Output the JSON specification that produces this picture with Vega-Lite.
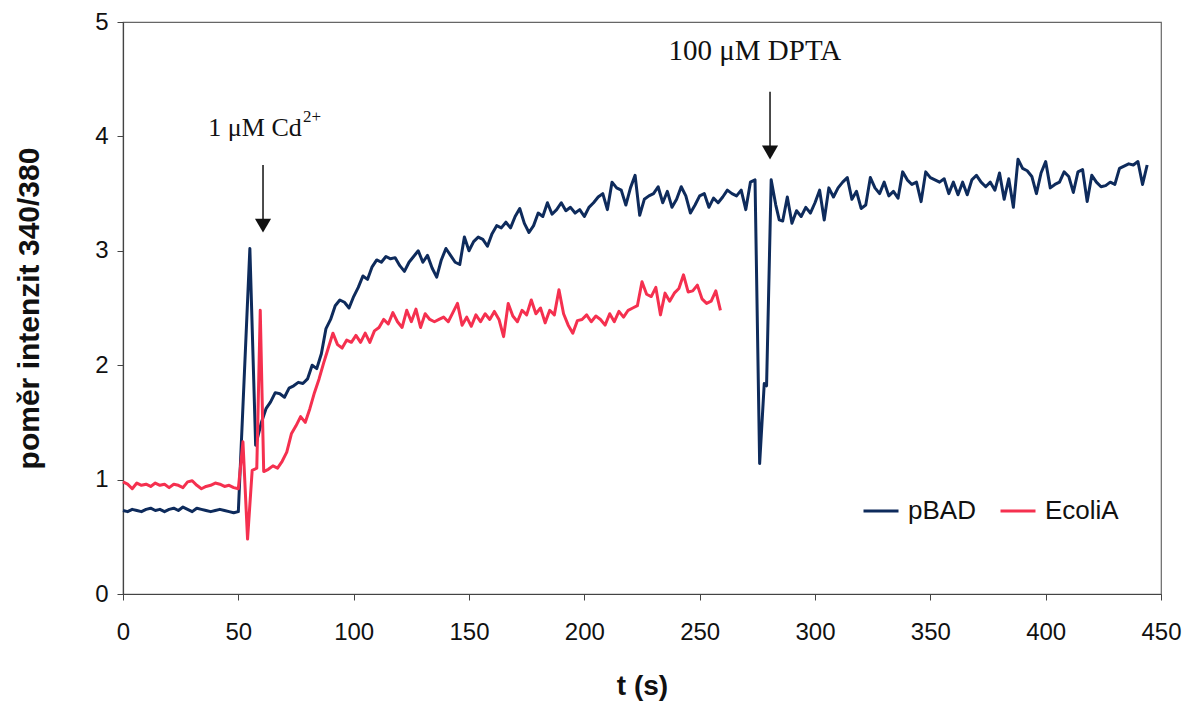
{
  "$schema": "https://vega.github.io/schema/vega-lite/v6.json",
  "width": 1038,
  "height": 572,
  "autosize": {"type": "none"},
  "padding": {"left": 123, "top": 22, "right": 28, "bottom": 113},
  "background": "white",
  "config": {
    "view": {"stroke": "#666", "strokeWidth": 1.2},
    "font": "Liberation Sans",
    "axis": {"grid": false, "domainColor": "#444", "tickColor": "#444", "labelColor": "#111", "titleColor": "#111", "labelFont": "Liberation Sans", "titleFont": "Liberation Sans", "labelFontSize": 24, "labelFontWeight": "normal", "titleFontWeight": "bold", "tickSize": 6, "domainWidth": 1.2}
  },
  "datasets": {
    "series": [
      {"s":"pBAD","t":0,"v":0.73},{"s":"pBAD","t":2,"v":0.72},{"s":"pBAD","t":4,"v":0.74},{"s":"pBAD","t":6,"v":0.73},{"s":"pBAD","t":8,"v":0.72},{"s":"pBAD","t":10,"v":0.74},{"s":"pBAD","t":12,"v":0.75},{"s":"pBAD","t":14,"v":0.73},{"s":"pBAD","t":16,"v":0.74},{"s":"pBAD","t":18,"v":0.72},{"s":"pBAD","t":20,"v":0.74},{"s":"pBAD","t":22,"v":0.75},{"s":"pBAD","t":24,"v":0.73},{"s":"pBAD","t":26,"v":0.76},{"s":"pBAD","t":28,"v":0.74},{"s":"pBAD","t":30,"v":0.72},{"s":"pBAD","t":32,"v":0.75},{"s":"pBAD","t":34,"v":0.74},{"s":"pBAD","t":36,"v":0.73},{"s":"pBAD","t":38,"v":0.72},{"s":"pBAD","t":40,"v":0.73},{"s":"pBAD","t":42,"v":0.74},{"s":"pBAD","t":44,"v":0.73},{"s":"pBAD","t":46,"v":0.72},{"s":"pBAD","t":48,"v":0.71},{"s":"pBAD","t":50,"v":0.72},{"s":"pBAD","t":55,"v":3.02},{"s":"pBAD","t":57.5,"v":1.3},{"s":"pBAD","t":60,"v":1.5},{"s":"pBAD","t":62,"v":1.62},{"s":"pBAD","t":64,"v":1.68},{"s":"pBAD","t":66,"v":1.76},{"s":"pBAD","t":68,"v":1.75},{"s":"pBAD","t":70,"v":1.72},{"s":"pBAD","t":72,"v":1.8},{"s":"pBAD","t":74,"v":1.82},{"s":"pBAD","t":76,"v":1.85},{"s":"pBAD","t":78,"v":1.84},{"s":"pBAD","t":80,"v":1.88},{"s":"pBAD","t":82,"v":2.0},{"s":"pBAD","t":84,"v":1.97},{"s":"pBAD","t":86,"v":2.1},{"s":"pBAD","t":88,"v":2.32},{"s":"pBAD","t":90,"v":2.4},{"s":"pBAD","t":92,"v":2.52},{"s":"pBAD","t":94,"v":2.57},{"s":"pBAD","t":96,"v":2.55},{"s":"pBAD","t":98,"v":2.5},{"s":"pBAD","t":100,"v":2.6},{"s":"pBAD","t":102,"v":2.68},{"s":"pBAD","t":104,"v":2.78},{"s":"pBAD","t":106,"v":2.75},{"s":"pBAD","t":108,"v":2.86},{"s":"pBAD","t":110,"v":2.92},{"s":"pBAD","t":112,"v":2.9},{"s":"pBAD","t":114,"v":2.95},{"s":"pBAD","t":116,"v":2.93},{"s":"pBAD","t":118,"v":2.94},{"s":"pBAD","t":120,"v":2.87},{"s":"pBAD","t":122,"v":2.82},{"s":"pBAD","t":124,"v":2.9},{"s":"pBAD","t":126,"v":2.95},{"s":"pBAD","t":128,"v":3.0},{"s":"pBAD","t":130,"v":2.9},{"s":"pBAD","t":132,"v":2.96},{"s":"pBAD","t":134,"v":2.85},{"s":"pBAD","t":136,"v":2.77},{"s":"pBAD","t":138,"v":2.92},{"s":"pBAD","t":140,"v":3.02},{"s":"pBAD","t":142,"v":2.96},{"s":"pBAD","t":144,"v":2.9},{"s":"pBAD","t":146,"v":2.88},{"s":"pBAD","t":148,"v":3.12},{"s":"pBAD","t":150,"v":3.0},{"s":"pBAD","t":152,"v":3.08},{"s":"pBAD","t":154,"v":3.12},{"s":"pBAD","t":156,"v":3.1},{"s":"pBAD","t":158,"v":3.04},{"s":"pBAD","t":160,"v":3.15},{"s":"pBAD","t":162,"v":3.22},{"s":"pBAD","t":164,"v":3.2},{"s":"pBAD","t":166,"v":3.25},{"s":"pBAD","t":168,"v":3.2},{"s":"pBAD","t":170,"v":3.3},{"s":"pBAD","t":172,"v":3.37},{"s":"pBAD","t":174,"v":3.24},{"s":"pBAD","t":176,"v":3.16},{"s":"pBAD","t":178,"v":3.22},{"s":"pBAD","t":180,"v":3.33},{"s":"pBAD","t":182,"v":3.3},{"s":"pBAD","t":184,"v":3.42},{"s":"pBAD","t":186,"v":3.32},{"s":"pBAD","t":188,"v":3.36},{"s":"pBAD","t":190,"v":3.42},{"s":"pBAD","t":192,"v":3.35},{"s":"pBAD","t":194,"v":3.38},{"s":"pBAD","t":196,"v":3.33},{"s":"pBAD","t":198,"v":3.36},{"s":"pBAD","t":200,"v":3.3},{"s":"pBAD","t":202,"v":3.38},{"s":"pBAD","t":204,"v":3.42},{"s":"pBAD","t":206,"v":3.47},{"s":"pBAD","t":208,"v":3.5},{"s":"pBAD","t":210,"v":3.36},{"s":"pBAD","t":212,"v":3.6},{"s":"pBAD","t":214,"v":3.55},{"s":"pBAD","t":216,"v":3.53},{"s":"pBAD","t":218,"v":3.4},{"s":"pBAD","t":220,"v":3.55},{"s":"pBAD","t":222,"v":3.66},{"s":"pBAD","t":224,"v":3.31},{"s":"pBAD","t":226,"v":3.45},{"s":"pBAD","t":228,"v":3.48},{"s":"pBAD","t":230,"v":3.5},{"s":"pBAD","t":232,"v":3.56},{"s":"pBAD","t":234,"v":3.42},{"s":"pBAD","t":236,"v":3.52},{"s":"pBAD","t":238,"v":3.38},{"s":"pBAD","t":240,"v":3.45},{"s":"pBAD","t":242,"v":3.56},{"s":"pBAD","t":244,"v":3.48},{"s":"pBAD","t":246,"v":3.33},{"s":"pBAD","t":248,"v":3.4},{"s":"pBAD","t":250,"v":3.48},{"s":"pBAD","t":252,"v":3.5},{"s":"pBAD","t":254,"v":3.38},{"s":"pBAD","t":256,"v":3.46},{"s":"pBAD","t":258,"v":3.42},{"s":"pBAD","t":260,"v":3.47},{"s":"pBAD","t":262,"v":3.53},{"s":"pBAD","t":264,"v":3.5},{"s":"pBAD","t":266,"v":3.48},{"s":"pBAD","t":268,"v":3.53},{"s":"pBAD","t":270,"v":3.36},{"s":"pBAD","t":272,"v":3.6},{"s":"pBAD","t":274,"v":3.62},{"s":"pBAD","t":276,"v":1.14},{"s":"pBAD","t":278,"v":1.84},{"s":"pBAD","t":279,"v":1.82},{"s":"pBAD","t":281,"v":3.62},{"s":"pBAD","t":283,"v":3.4},{"s":"pBAD","t":284.5,"v":3.27},{"s":"pBAD","t":286,"v":3.26},{"s":"pBAD","t":288,"v":3.47},{"s":"pBAD","t":290,"v":3.24},{"s":"pBAD","t":292,"v":3.35},{"s":"pBAD","t":294,"v":3.3},{"s":"pBAD","t":296,"v":3.38},{"s":"pBAD","t":298,"v":3.33},{"s":"pBAD","t":300,"v":3.42},{"s":"pBAD","t":302,"v":3.53},{"s":"pBAD","t":304,"v":3.27},{"s":"pBAD","t":306,"v":3.55},{"s":"pBAD","t":308,"v":3.47},{"s":"pBAD","t":310,"v":3.55},{"s":"pBAD","t":312,"v":3.6},{"s":"pBAD","t":314,"v":3.64},{"s":"pBAD","t":316,"v":3.45},{"s":"pBAD","t":318,"v":3.52},{"s":"pBAD","t":320,"v":3.37},{"s":"pBAD","t":322,"v":3.4},{"s":"pBAD","t":324,"v":3.64},{"s":"pBAD","t":326,"v":3.55},{"s":"pBAD","t":328,"v":3.5},{"s":"pBAD","t":330,"v":3.6},{"s":"pBAD","t":332,"v":3.48},{"s":"pBAD","t":334,"v":3.52},{"s":"pBAD","t":336,"v":3.46},{"s":"pBAD","t":338,"v":3.69},{"s":"pBAD","t":340,"v":3.62},{"s":"pBAD","t":342,"v":3.58},{"s":"pBAD","t":344,"v":3.6},{"s":"pBAD","t":346,"v":3.43},{"s":"pBAD","t":348,"v":3.69},{"s":"pBAD","t":350,"v":3.64},{"s":"pBAD","t":352,"v":3.62},{"s":"pBAD","t":354,"v":3.6},{"s":"pBAD","t":356,"v":3.63},{"s":"pBAD","t":358,"v":3.5},{"s":"pBAD","t":360,"v":3.6},{"s":"pBAD","t":362,"v":3.49},{"s":"pBAD","t":364,"v":3.6},{"s":"pBAD","t":366,"v":3.49},{"s":"pBAD","t":368,"v":3.62},{"s":"pBAD","t":370,"v":3.66},{"s":"pBAD","t":372,"v":3.6},{"s":"pBAD","t":374,"v":3.56},{"s":"pBAD","t":376,"v":3.6},{"s":"pBAD","t":378,"v":3.53},{"s":"pBAD","t":380,"v":3.68},{"s":"pBAD","t":382,"v":3.45},{"s":"pBAD","t":384,"v":3.63},{"s":"pBAD","t":386,"v":3.38},{"s":"pBAD","t":388,"v":3.8},{"s":"pBAD","t":390,"v":3.72},{"s":"pBAD","t":392,"v":3.7},{"s":"pBAD","t":394,"v":3.65},{"s":"pBAD","t":396,"v":3.5},{"s":"pBAD","t":398,"v":3.68},{"s":"pBAD","t":400,"v":3.78},{"s":"pBAD","t":402,"v":3.55},{"s":"pBAD","t":404,"v":3.58},{"s":"pBAD","t":406,"v":3.6},{"s":"pBAD","t":408,"v":3.69},{"s":"pBAD","t":410,"v":3.65},{"s":"pBAD","t":412,"v":3.51},{"s":"pBAD","t":414,"v":3.69},{"s":"pBAD","t":416,"v":3.71},{"s":"pBAD","t":418,"v":3.43},{"s":"pBAD","t":420,"v":3.66},{"s":"pBAD","t":422,"v":3.6},{"s":"pBAD","t":424,"v":3.56},{"s":"pBAD","t":426,"v":3.57},{"s":"pBAD","t":428,"v":3.6},{"s":"pBAD","t":430,"v":3.58},{"s":"pBAD","t":432,"v":3.72},{"s":"pBAD","t":434,"v":3.74},{"s":"pBAD","t":436,"v":3.76},{"s":"pBAD","t":438,"v":3.75},{"s":"pBAD","t":440,"v":3.78},{"s":"pBAD","t":442,"v":3.58},{"s":"pBAD","t":444,"v":3.75},
      {"s":"EcoliA","t":0,"v":0.98},{"s":"EcoliA","t":2,"v":0.96},{"s":"EcoliA","t":4,"v":0.92},{"s":"EcoliA","t":6,"v":0.97},{"s":"EcoliA","t":8,"v":0.95},{"s":"EcoliA","t":10,"v":0.96},{"s":"EcoliA","t":12,"v":0.94},{"s":"EcoliA","t":14,"v":0.97},{"s":"EcoliA","t":16,"v":0.95},{"s":"EcoliA","t":18,"v":0.96},{"s":"EcoliA","t":20,"v":0.93},{"s":"EcoliA","t":22,"v":0.96},{"s":"EcoliA","t":24,"v":0.95},{"s":"EcoliA","t":26,"v":0.93},{"s":"EcoliA","t":28,"v":0.98},{"s":"EcoliA","t":30,"v":0.99},{"s":"EcoliA","t":32,"v":0.95},{"s":"EcoliA","t":34,"v":0.92},{"s":"EcoliA","t":36,"v":0.94},{"s":"EcoliA","t":38,"v":0.95},{"s":"EcoliA","t":40,"v":0.97},{"s":"EcoliA","t":42,"v":0.96},{"s":"EcoliA","t":44,"v":0.94},{"s":"EcoliA","t":46,"v":0.95},{"s":"EcoliA","t":48,"v":0.93},{"s":"EcoliA","t":50,"v":0.92},{"s":"EcoliA","t":52,"v":1.33},{"s":"EcoliA","t":54,"v":0.48},{"s":"EcoliA","t":56,"v":1.08},{"s":"EcoliA","t":58,"v":1.1},{"s":"EcoliA","t":59.5,"v":2.48},{"s":"EcoliA","t":61,"v":1.07},{"s":"EcoliA","t":63,"v":1.09},{"s":"EcoliA","t":65,"v":1.12},{"s":"EcoliA","t":67,"v":1.1},{"s":"EcoliA","t":69,"v":1.16},{"s":"EcoliA","t":71,"v":1.24},{"s":"EcoliA","t":73,"v":1.4},{"s":"EcoliA","t":75,"v":1.47},{"s":"EcoliA","t":77,"v":1.55},{"s":"EcoliA","t":79,"v":1.5},{"s":"EcoliA","t":81,"v":1.62},{"s":"EcoliA","t":83,"v":1.76},{"s":"EcoliA","t":85,"v":1.88},{"s":"EcoliA","t":87,"v":2.02},{"s":"EcoliA","t":89,"v":2.15},{"s":"EcoliA","t":91,"v":2.28},{"s":"EcoliA","t":93,"v":2.18},{"s":"EcoliA","t":95,"v":2.15},{"s":"EcoliA","t":97,"v":2.22},{"s":"EcoliA","t":99,"v":2.2},{"s":"EcoliA","t":101,"v":2.26},{"s":"EcoliA","t":103,"v":2.2},{"s":"EcoliA","t":105,"v":2.28},{"s":"EcoliA","t":107,"v":2.2},{"s":"EcoliA","t":109,"v":2.3},{"s":"EcoliA","t":111,"v":2.33},{"s":"EcoliA","t":113,"v":2.4},{"s":"EcoliA","t":115,"v":2.36},{"s":"EcoliA","t":117,"v":2.46},{"s":"EcoliA","t":119,"v":2.38},{"s":"EcoliA","t":121,"v":2.33},{"s":"EcoliA","t":123,"v":2.48},{"s":"EcoliA","t":125,"v":2.38},{"s":"EcoliA","t":127,"v":2.49},{"s":"EcoliA","t":129,"v":2.33},{"s":"EcoliA","t":131,"v":2.45},{"s":"EcoliA","t":133,"v":2.4},{"s":"EcoliA","t":135,"v":2.38},{"s":"EcoliA","t":137,"v":2.4},{"s":"EcoliA","t":139,"v":2.42},{"s":"EcoliA","t":141,"v":2.38},{"s":"EcoliA","t":143,"v":2.46},{"s":"EcoliA","t":145,"v":2.54},{"s":"EcoliA","t":147,"v":2.35},{"s":"EcoliA","t":149,"v":2.42},{"s":"EcoliA","t":151,"v":2.34},{"s":"EcoliA","t":153,"v":2.44},{"s":"EcoliA","t":155,"v":2.38},{"s":"EcoliA","t":157,"v":2.45},{"s":"EcoliA","t":159,"v":2.4},{"s":"EcoliA","t":161,"v":2.47},{"s":"EcoliA","t":163,"v":2.4},{"s":"EcoliA","t":165,"v":2.25},{"s":"EcoliA","t":167,"v":2.54},{"s":"EcoliA","t":169,"v":2.43},{"s":"EcoliA","t":171,"v":2.38},{"s":"EcoliA","t":173,"v":2.48},{"s":"EcoliA","t":175,"v":2.44},{"s":"EcoliA","t":177,"v":2.57},{"s":"EcoliA","t":179,"v":2.45},{"s":"EcoliA","t":181,"v":2.5},{"s":"EcoliA","t":183,"v":2.37},{"s":"EcoliA","t":185,"v":2.48},{"s":"EcoliA","t":187,"v":2.44},{"s":"EcoliA","t":189,"v":2.66},{"s":"EcoliA","t":191,"v":2.45},{"s":"EcoliA","t":193,"v":2.35},{"s":"EcoliA","t":195,"v":2.28},{"s":"EcoliA","t":197,"v":2.39},{"s":"EcoliA","t":199,"v":2.4},{"s":"EcoliA","t":201,"v":2.44},{"s":"EcoliA","t":203,"v":2.38},{"s":"EcoliA","t":205,"v":2.43},{"s":"EcoliA","t":207,"v":2.4},{"s":"EcoliA","t":209,"v":2.35},{"s":"EcoliA","t":211,"v":2.45},{"s":"EcoliA","t":213,"v":2.38},{"s":"EcoliA","t":215,"v":2.47},{"s":"EcoliA","t":217,"v":2.42},{"s":"EcoliA","t":219,"v":2.48},{"s":"EcoliA","t":221,"v":2.5},{"s":"EcoliA","t":223,"v":2.52},{"s":"EcoliA","t":225,"v":2.73},{"s":"EcoliA","t":227,"v":2.62},{"s":"EcoliA","t":229,"v":2.6},{"s":"EcoliA","t":231,"v":2.68},{"s":"EcoliA","t":233,"v":2.44},{"s":"EcoliA","t":235,"v":2.63},{"s":"EcoliA","t":237,"v":2.56},{"s":"EcoliA","t":239,"v":2.63},{"s":"EcoliA","t":241,"v":2.67},{"s":"EcoliA","t":243,"v":2.79},{"s":"EcoliA","t":245,"v":2.64},{"s":"EcoliA","t":247,"v":2.65},{"s":"EcoliA","t":249,"v":2.7},{"s":"EcoliA","t":251,"v":2.58},{"s":"EcoliA","t":253,"v":2.54},{"s":"EcoliA","t":255,"v":2.56},{"s":"EcoliA","t":257,"v":2.65},{"s":"EcoliA","t":259,"v":2.48}
    ],
    "arrows": [
      {"t": 60.7, "top": 3.75, "tip": 3.18, "head": 3.22},
      {"t": 280.5, "top": 4.39, "tip": 3.82, "head": 3.86}
    ],
    "labels": [
      {"t": 37, "v": 4.0, "label": "1 μM Cd", "size": 26},
      {"t": 78, "v": 4.13, "label": "2+", "size": 17},
      {"t": 236.5, "v": 4.67, "label": "100 μM DPTA", "size": 29}
    ]
  },
  "layer": [
    {
      "data": {"name": "series"},
      "mark": {"type": "line", "strokeWidth": 3, "strokeJoin": "round"},
      "encoding": {
        "x": {"field": "t", "type": "quantitative", "scale": {"domain": [0, 450], "nice": false},
          "axis": {"values": [0,50,100,150,200,250,300,350,400,450], "format": "d", "title": "t (s)", "titleFontSize": 28, "labelPadding": 20, "titlePadding": 28, "labelFlush": false}},
        "y": {"field": "v", "type": "quantitative", "scale": {"domain": [0, 5], "nice": false},
          "axis": {"values": [0,1,2,3,4,5], "format": "d", "title": "poměr intenzit 340/380", "titleFontSize": 30, "labelPadding": 9, "titlePadding": 50}},
        "color": {"field": "s", "type": "nominal",
          "scale": {"domain": ["pBAD", "EcoliA"], "range": ["#0e2b5c", "#f5304f"]},
          "legend": {"title": null, "orient": "none", "legendX": 739, "legendY": 470, "direction": "horizontal",
            "symbolType": "stroke", "symbolSize": 1225, "symbolStrokeWidth": 3, "labelFontSize": 26, "labelFont": "Liberation Sans", "labelColor": "#111", "columnPadding": 18, "labelOffset": 8}},
        "detail": {"field": "s"}
      }
    },
    {
      "data": {"name": "arrows"},
      "mark": {"type": "rule", "color": "#111", "strokeWidth": 1.5},
      "encoding": {
        "x": {"field": "t", "type": "quantitative"},
        "y": {"field": "top", "type": "quantitative"},
        "y2": {"field": "tip"}
      }
    },
    {
      "data": {"name": "arrows"},
      "mark": {"type": "point", "shape": "triangle-down", "filled": true, "color": "#111", "size": 260, "opacity": 1},
      "encoding": {
        "x": {"field": "t", "type": "quantitative"},
        "y": {"field": "head", "type": "quantitative"}
      }
    },
    {
      "data": {"name": "labels"},
      "mark": {"type": "text", "align": "left", "baseline": "alphabetic", "font": "Liberation Serif", "color": "#111"},
      "encoding": {
        "x": {"field": "t", "type": "quantitative"},
        "y": {"field": "v", "type": "quantitative"},
        "text": {"field": "label"},
        "size": {"field": "size", "type": "quantitative", "scale": null}
      }
    }
  ]
}
